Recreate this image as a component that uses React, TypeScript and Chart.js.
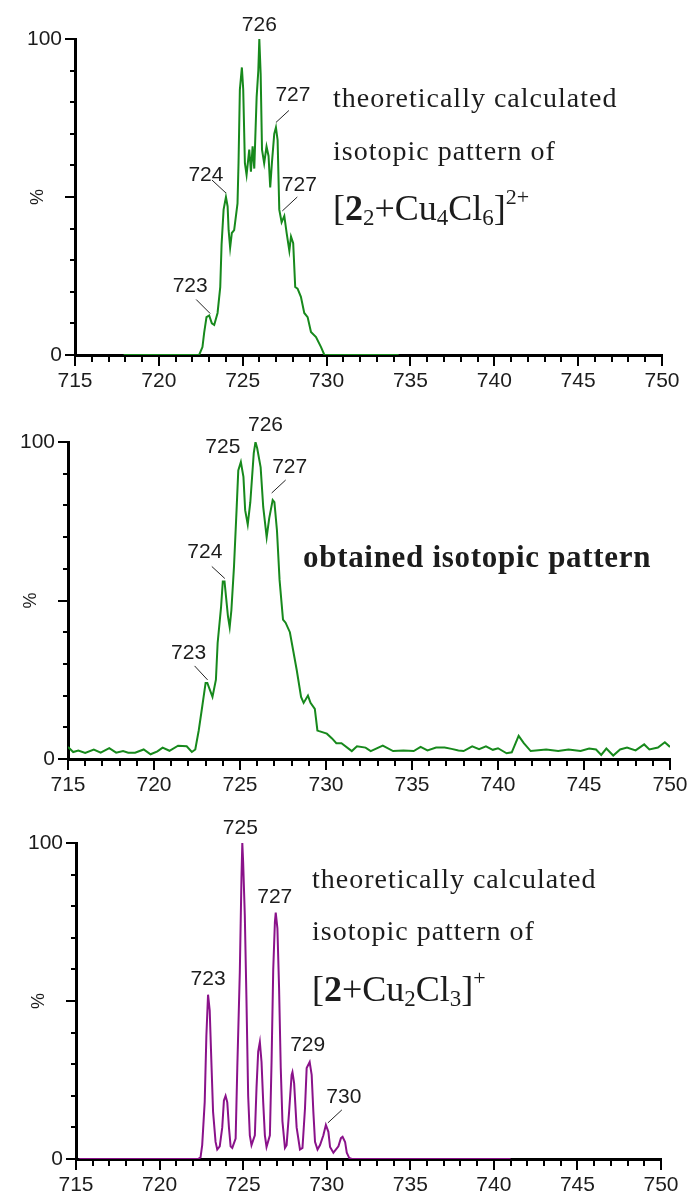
import React, { useEffect, useRef } from "react";
import { Chart, registerables } from "chart.js";

Chart.register(...registerables);

const X_MIN = 715;
const X_MAX = 750;
const Y_LABELLED = [0, 100];

// Calculated profile of [2₂+Cu₄Cl₆]²⁺ (m/z, relative intensity %)
const dimerCalcMz = [
  717.9, 722.4, 722.6, 722.7, 722.84, 723.0, 723.16, 723.3, 723.5, 723.66, 723.74, 723.86, 724.0,
  724.1, 724.16, 724.25, 724.35, 724.49, 724.69, 724.75, 724.83, 724.95, 725.03, 725.13, 725.23,
  725.39, 725.49, 725.59, 725.69, 725.83, 725.93, 725.99, 726.07, 726.15, 726.28, 726.42, 726.54,
  726.64, 726.74, 726.88, 726.98, 727.08, 727.18, 727.32, 727.48, 727.62, 727.78, 727.88, 728.01,
  728.13, 728.27, 728.47, 728.67, 728.87, 729.07, 729.37, 729.67, 729.87, 734.3,
];
const dimerCalcPct = [
  0, 0, 2.5, 7, 12, 12.5, 10, 9.5, 13.3, 21.5, 35, 46, 50,
  47, 39.5, 34, 38.6, 39.5, 48, 60.7, 84, 91, 84, 60.7, 57,
  65, 58, 66, 59, 81.6, 90, 100, 89, 65, 60.7, 66, 63,
  53, 60.7, 70, 72, 68, 46, 42, 44, 38.6, 33, 37.5, 35.4,
  21.5, 21, 18.4, 13.3, 12, 7.3, 5.7, 2.5, 0, 0,
];
const dimerPeakText = ["723", "724", "726", "727", "727"];
const dimerPeakMz = [723.0, 724.0, 725.99, 726.98, 727.48];
const dimerPeakPct = [12.5, 50, 100, 72, 44];

// Measured spectrum (m/z, relative intensity %)
const observedMz = [
  715.0, 715.3, 715.6, 716.0, 716.5, 716.9, 717.4, 717.8, 718.2, 718.5, 718.9, 719.4, 719.8,
  720.2, 720.5, 720.9, 721.4, 721.9, 722.2, 722.4, 722.6, 722.8, 723.0, 723.1, 723.4, 723.6,
  723.7, 723.9, 724.0, 724.1, 724.3, 724.4, 724.5, 724.65, 724.8, 724.9, 725.05, 725.2, 725.3,
  725.45, 725.6, 725.8, 725.9, 726.0, 726.2, 726.35, 726.55, 726.7, 726.9, 727.0, 727.15, 727.3,
  727.5, 727.65, 727.9, 728.1, 728.3, 728.55, 728.7, 728.95, 729.1, 729.35, 729.5, 729.6, 730.05,
  730.35, 730.6, 730.9, 731.5, 731.8, 732.3, 732.6, 733.3, 733.9, 734.5, 735.1, 735.5, 735.9,
  736.4, 736.9, 737.3, 737.7, 738.0, 738.5, 738.9, 739.3, 739.7, 740.0, 740.5, 740.8, 741.2,
  741.5, 741.9, 742.8, 743.5, 744.1, 744.8, 745.3, 745.7, 746.0, 746.3, 746.7, 747.1, 747.5,
  748.0, 748.5, 748.8, 749.3, 749.7, 750.0,
];
const observedPct = [
  3.8, 2.2, 2.7, 1.9, 3.0, 2.0, 3.4, 2.0, 2.5, 2.0, 2.0, 3.0, 1.5,
  2.4, 3.6, 2.6, 4.2, 4.0, 2.2, 3.0, 9, 16.4, 24, 24, 19.6, 25,
  36.6, 48, 56, 56, 45, 41.6, 47, 60.6, 78.5, 91, 93.7, 89, 78.5,
  74, 81, 96.5, 100, 98, 92, 79.5, 70, 76, 81.7, 81, 72, 56.5,
  44, 43, 40, 34, 28, 19.6, 17.7, 20, 17.7, 15.8, 9, 8.8, 8,
  6.5, 5, 5, 2.5, 4, 3.6, 2.5, 4.2, 2.5, 2.7, 2.5, 3.8, 2.7,
  3.6, 3.6, 3.2, 2.7, 2.5, 4, 3.1, 4, 2.9, 3.4, 1.8, 2.1, 7.3,
  5.0, 2.5, 3.0, 2.5, 3.0, 2.5, 3.3, 3.0, 1.3, 3.3, 1.1, 3.0, 3.6,
  2.7, 4.6, 3.0, 3.6, 5.3, 3.8,
];
const observedPeakText = ["723", "724", "725", "726", "727"];
const observedPeakMz = [723.0, 724.0, 725.05, 725.9, 726.9];
const observedPeakPct = [24, 56, 93.7, 100, 81.7];

// Calculated profile of [2+Cu₂Cl₃]⁺ (m/z, relative intensity %)
const monoCalcMz = [
  715.2, 722.3, 722.45, 722.55, 722.7, 722.8, 722.9, 723.0, 723.1, 723.2, 723.35, 723.45, 723.6,
  723.75, 723.85, 723.95, 724.05, 724.15, 724.25, 724.35, 724.55, 724.65, 724.8, 724.9, 724.95,
  725.0, 725.1, 725.2, 725.3, 725.4, 725.5, 725.7, 725.8, 725.9, 726.0, 726.1, 726.2, 726.3,
  726.4, 726.6, 726.7, 726.8, 726.9, 726.95, 727.05, 727.15, 727.25, 727.35, 727.5, 727.6, 727.75,
  727.9, 727.95, 728.05, 728.2, 728.4, 728.55, 728.7, 728.8, 728.98, 729.1, 729.2, 729.3, 729.45,
  729.6, 729.8, 729.95, 730.1, 730.2, 730.4, 730.7, 730.85, 730.95, 731.1, 731.2, 731.35, 731.5,
  741.0,
];
const monoCalcPct = [
  0, 0, 0.5, 4.4, 18, 39, 52, 47, 30.7, 15, 5.4, 3, 4,
  10, 18.5, 20, 18, 10, 4, 3.5, 6.5, 28.8, 59, 89, 100,
  94, 77, 50, 20, 7.5, 4.4, 7.5, 22.5, 34, 37, 30.7, 18, 7.5,
  3.8, 7.5, 30.7, 60, 75, 78, 73, 54, 28.8, 12, 3.5, 4.4, 15,
  26.6, 27.5, 24, 10, 3, 3.5, 16, 28.8, 30.7, 26.6, 15, 5.4, 3,
  4.4, 7.5, 10.8, 8.6, 3.8, 2, 4, 6.6, 7, 5.4, 2, 0.3, 0,
  0,
];
const monoPeakText = ["723", "725", "727", "729", "730"];
const monoPeakMz = [722.9, 724.95, 726.95, 728.98, 729.95];
const monoPeakPct = [52, 100, 78, 30.7, 10.8];

type LabelPlacement = { dx: number; dy: number; leader?: [number, number, number, number] };

const dimerLabelPlacement: LabelPlacement[] = [
  { dx: -19, dy: -29, leader: [-13, -16, 1, -2] },
  { dx: -20, dy: -22, leader: [-14, -17, 0, -4] },
  { dx: 0, dy: -14 },
  { dx: 17, dy: -32, leader: [13, -17, 0, -5] },
  { dx: 15, dy: -31, leader: [13, -19, -2, -5] },
];
const observedLabelPlacement: LabelPlacement[] = [
  { dx: -17, dy: -30, leader: [-11, -17, 2, -3] },
  { dx: -18, dy: -29, leader: [-11, -15, 2, -3] },
  { dx: -18, dy: -15 },
  { dx: 10, dy: -17 },
  { dx: 17, dy: -33, leader: [13, -20, -1, -7] },
];
const monoLabelPlacement: LabelPlacement[] = [
  { dx: 0, dy: -15 },
  { dx: -2, dy: -15 },
  { dx: -1, dy: -15 },
  { dx: -2, dy: -17 },
  { dx: 18, dy: -28, leader: [16, -15, 2, -2] },
];

const SANS = '"Liberation Sans", Arial, sans-serif';
const SERIF = '"Liberation Serif", "Times New Roman", serif';
const INK = "#1c1c1c";
const PAGE_W = 694;

type PanelProps = {
  top: number;
  height: number;
  plotLeft: number;
  plotRight: number;
  plotTop: number;
  plotBottom: number;
  mz: number[];
  pct: number[];
  color: string;
  peakText: string[];
  peakMz: number[];
  peakPct: number[];
  placement: LabelPlacement[];
};

function SpectrumPanel(p: PanelProps) {
  const ref = useRef<HTMLCanvasElement | null>(null);

  useEffect(() => {
    const canvas = ref.current;
    if (!canvas) return;

    const decor = {
      id: "spectrumDecor",
      afterDraw(chart: any) {
        const { ctx, chartArea: a } = chart;
        const xs = chart.scales.x;
        const ys = chart.scales.y;
        ctx.save();

        // tick marks: long at labelled positions, short between
        ctx.strokeStyle = "#000";
        ctx.lineWidth = 2;
        ctx.beginPath();
        xs.ticks.forEach((t: any) => {
          const px = Math.round(xs.getPixelForValue(t.value));
          const len = Math.round(t.value) % 5 === 0 ? 11 : 7;
          ctx.moveTo(px, a.bottom);
          ctx.lineTo(px, a.bottom + len);
        });
        ys.ticks.forEach((t: any) => {
          const py = Math.round(ys.getPixelForValue(t.value));
          const len = Math.round(t.value) % 50 === 0 ? 10 : 5;
          ctx.moveTo(a.left - len, py);
          ctx.lineTo(a.left, py);
        });
        ctx.stroke();

        // rotated "%" axis title at the half-scale mark
        ctx.save();
        ctx.translate(a.left - 37, ys.getPixelForValue(50));
        ctx.rotate(-Math.PI / 2);
        ctx.fillStyle = INK;
        ctx.font = `18px ${SANS}`;
        ctx.textAlign = "center";
        ctx.textBaseline = "middle";
        ctx.fillText("%", 0, 0);
        ctx.restore();

        // peak labels with leader lines
        ctx.font = `21px ${SANS}`;
        ctx.fillStyle = INK;
        ctx.textAlign = "center";
        ctx.textBaseline = "middle";
        ctx.strokeStyle = "#222";
        ctx.lineWidth = 1;
        p.peakText.forEach((txt, i) => {
          const px = xs.getPixelForValue(p.peakMz[i]);
          const py = ys.getPixelForValue(p.peakPct[i]);
          const pl = p.placement[i];
          ctx.fillText(txt, px + pl.dx, py + pl.dy);
          if (pl.leader) {
            const [x1, y1, x2, y2] = pl.leader;
            ctx.beginPath();
            ctx.moveTo(px + x1, py + y1);
            ctx.lineTo(px + x2, py + y2);
            ctx.stroke();
          }
        });
        ctx.restore();
      },
    };

    const tickFont = { family: SANS, size: 21 };
    const chart = new Chart(canvas, {
      type: "line",
      data: {
        datasets: [
          {
            data: p.mz.map((m, i) => ({ x: m, y: p.pct[i] })),
            borderColor: p.color,
            borderWidth: 2,
            pointRadius: 0,
            tension: 0,
            fill: false,
          },
        ],
      },
      options: {
        animation: false,
        responsive: false,
        events: [],
        layout: { padding: { top: p.plotTop, right: PAGE_W - p.plotRight, left: 0, bottom: 0 } },
        plugins: { legend: { display: false }, tooltip: { enabled: false } },
        scales: {
          x: {
            type: "linear",
            min: X_MIN,
            max: X_MAX,
            afterFit: (s: any) => {
              s.height = p.height - p.plotBottom;
            },
            grid: { drawOnChartArea: false, color: "transparent", tickLength: 12 },
            border: { display: true, color: "#000", width: 3 },
            ticks: {
              stepSize: 1,
              autoSkip: false,
              maxRotation: 0,
              padding: 2,
              color: INK,
              font: tickFont,
              callback: (v: any) => (Math.round(v) % 5 === 0 ? String(v) : ""),
            },
          },
          y: {
            min: 0,
            max: 100,
            afterFit: (s: any) => {
              s.width = p.plotLeft;
            },
            grid: { drawOnChartArea: false, color: "transparent", tickLength: 10 },
            border: { display: true, color: "#000", width: 3 },
            ticks: {
              stepSize: 10,
              padding: 3,
              color: INK,
              font: tickFont,
              callback: (v: any) => (Y_LABELLED.includes(Math.round(v)) ? String(v) : ""),
            },
          },
        },
      },
      plugins: [decor],
    } as any);

    return () => chart.destroy();
  }, []);

  return (
    <canvas
      ref={ref}
      width={PAGE_W}
      height={p.height}
      style={{ position: "absolute", left: 0, top: p.top, display: "block" }}
    />
  );
}

const sub = (fs: number, shift: number): React.CSSProperties => ({
  fontSize: fs,
  position: "relative",
  top: shift,
  lineHeight: 0,
});

function Caption(props: { left: number; baseline: number; size: number; bold?: boolean; spacing?: number; children: React.ReactNode }) {
  const { left, baseline, size, bold, spacing } = props;
  return (
    <div
      style={{
        position: "absolute",
        left,
        top: baseline - 0.8375 * size,
        fontFamily: SERIF,
        fontSize: size,
        fontWeight: bold ? "bold" : "normal",
        lineHeight: `${size}px`,
        letterSpacing: spacing ? `${spacing}px` : undefined,
        whiteSpace: "nowrap",
        color: INK,
      }}
    >
      {props.children}
    </div>
  );
}

export default function App() {
  return (
    <div style={{ position: "absolute", left: 0, top: 0, width: PAGE_W, height: 1199, background: "#fff", overflow: "hidden" }}>
      <SpectrumPanel
        top={0}
        height={400}
        plotLeft={75}
        plotRight={662}
        plotTop={39}
        plotBottom={355}
        mz={dimerCalcMz}
        pct={dimerCalcPct}
        color="#17891c"
        peakText={dimerPeakText}
        peakMz={dimerPeakMz}
        peakPct={dimerPeakPct}
        placement={dimerLabelPlacement}
      />
      <SpectrumPanel
        top={400}
        height={400}
        plotLeft={68}
        plotRight={670}
        plotTop={42}
        plotBottom={359}
        mz={observedMz}
        pct={observedPct}
        color="#17891c"
        peakText={observedPeakText}
        peakMz={observedPeakMz}
        peakPct={observedPeakPct}
        placement={observedLabelPlacement}
      />
      <SpectrumPanel
        top={800}
        height={399}
        plotLeft={76}
        plotRight={661}
        plotTop={43}
        plotBottom={359}
        mz={monoCalcMz}
        pct={monoCalcPct}
        color="#8a128a"
        peakText={monoPeakText}
        peakMz={monoPeakMz}
        peakPct={monoPeakPct}
        placement={monoLabelPlacement}
      />

      <Caption left={333} baseline={107} size={28} spacing={1}>theoretically calculated</Caption>
      <Caption left={333} baseline={160} size={28} spacing={1}>isotopic pattern of</Caption>
      <Caption left={333} baseline={220} size={36}>
        [<b>2</b>
        <span style={sub(23, 5)}>2</span>+Cu<span style={sub(23, 5)}>4</span>Cl<span style={sub(23, 5)}>6</span>]
        <span style={sub(22, -16)}>2+</span>
      </Caption>

      <Caption left={303} baseline={567} size={31} bold spacing={0.7}>obtained isotopic pattern</Caption>

      <Caption left={312} baseline={888} size={28} spacing={1}>theoretically calculated</Caption>
      <Caption left={312} baseline={940} size={28} spacing={1}>isotopic pattern of</Caption>
      <Caption left={312} baseline={1001} size={36}>
        [<b>2</b>+Cu<span style={sub(23, 5)}>2</span>Cl<span style={sub(23, 5)}>3</span>]
        <span style={sub(22, -16)}>+</span>
      </Caption>
    </div>
  );
}
